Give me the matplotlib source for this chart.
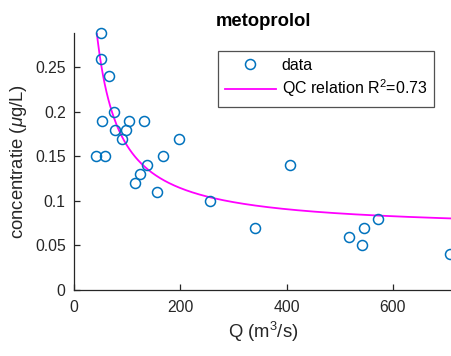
import numpy as np
import matplotlib
matplotlib.use("Agg")
import matplotlib.pyplot as plt

plt.rcParams['font.family'] = ['Liberation Sans', 'DejaVu Sans']
plt.rcParams['mathtext.fontset'] = 'custom'
plt.rcParams['mathtext.rm'] = 'Liberation Sans'
plt.rcParams['mathtext.it'] = 'Liberation Sans:italic'

# data
Q = [51, 51, 66, 75, 53, 78, 97, 91, 103, 132, 41, 58, 198, 167, 137,
     124, 115, 157, 255, 407, 340, 517, 545, 542, 572, 708]
C = [0.289, 0.26, 0.24, 0.20, 0.19, 0.18, 0.18, 0.17, 0.19, 0.19, 0.15, 0.15,
     0.17, 0.15, 0.14, 0.13, 0.12, 0.11, 0.10, 0.14, 0.07, 0.06, 0.07, 0.05,
     0.08, 0.04]
# QC relation: C = a + b / Q
fit_a = 0.067
fit_b = 9.5
r2 = 0.73

x_ticks = [0, 200, 400, 600]
y_ticks = [0, 0.05, 0.1, 0.15, 0.2, 0.25]
y_ticklabels = ['0', '0.05', '0.1', '0.15', '0.2', '0.25']

fig = plt.figure(figsize=(4.52, 3.56), dpi=100)
ax = fig.add_axes([74/452, 1-290/356, (452-74)/452, (290-32.7)/356])

xmax = 711
ax.plot(Q, C, 'o', mfc='none', mec='#0072BD', ms=7.2, mew=1.1, label='data',
        clip_on=False, zorder=3)
qq = np.linspace(min(Q), xmax, 400)
ax.plot(qq, fit_a + fit_b/qq, '-', color='#FF00FF', lw=1.3,
        label='QC relation R$^2$=%.2f' % r2)

ax.set_xlim(0, xmax)
ax.set_ylim(0, max(C))
ax.set_xticks(x_ticks)
ax.set_yticks(y_ticks)
ax.set_yticklabels(y_ticklabels)
ax.spines['top'].set_visible(False)
ax.spines['right'].set_visible(False)
for s in ['left', 'bottom']:
    ax.spines[s].set_linewidth(0.9)
    ax.spines[s].set_color('#262626')
ax.tick_params(direction='in', length=4, width=0.9, labelsize=11.3,
               colors='#262626')
ax.tick_params(axis='x', pad=7.5)
ax.tick_params(axis='y', pad=6)

ax.set_xlabel('Q (m$^3$/s)', fontsize=13.3, color='#262626', labelpad=3)
ax.set_ylabel('concentratie ($\\mu$g/L)', fontsize=13.3, color='#262626', labelpad=4)
ax.set_title('metoprolol', fontsize=13.3, fontweight='bold', pad=4.5)

leg = ax.legend(loc='upper right', bbox_to_anchor=(0.953, 0.930), fontsize=11.5,
                frameon=True, fancybox=False, edgecolor='#262626',
                borderaxespad=0, handlelength=3.2, handletextpad=0.35,
                borderpad=0.45, labelspacing=0.3)
leg.get_frame().set_linewidth(0.9)

fig.savefig('out.png', dpi=100)
